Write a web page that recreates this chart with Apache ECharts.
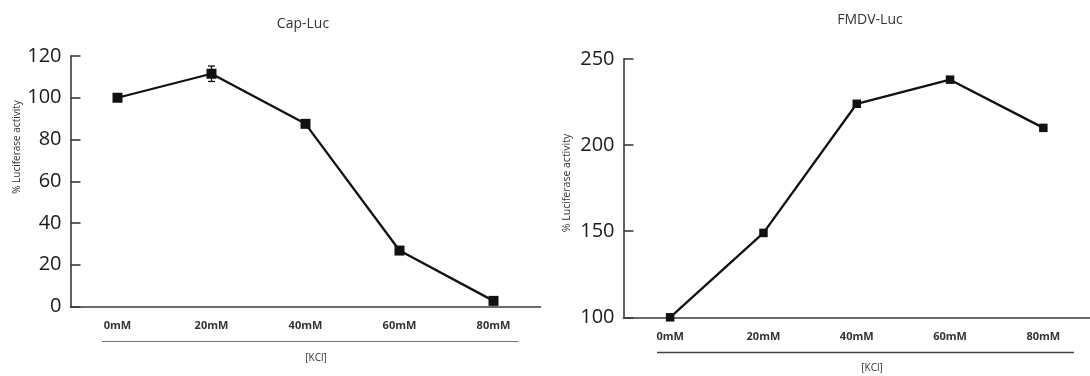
<!DOCTYPE html>
<html>
<head>
<meta charset="utf-8">
<script src="https://cdn.jsdelivr.net/npm/echarts@6/dist/echarts.min.js"></script>
<style>
html,body{margin:0;padding:0;background:#fff;}
#chart{width:1090px;height:376px;}
</style>
</head>
<body>
<div id="chart"></div>
<script>
// ---- data ----
const categories = ['0mM', '20mM', '40mM', '60mM', '80mM'];
const capLuc = [100, 111.5, 87.5, 26.8, 2.7];
const capLucErr = [0, 3.7, 0, 0, 0];
const fmdvLuc = [100, 149, 224, 238, 210];
const leftTicks = [0, 20, 40, 60, 80, 100, 120];
const rightTicks = [100, 150, 200, 250];
const titles = ['Cap-Luc', 'FMDV-Luc'];
const yName = '% Luciferase activity';
const xName = '[KCl]';

const FONT = '"Open Sans", "Liberation Sans", sans-serif';
const axisCol = '#3a3a3a';
const textCol = '#333';

const chart = echarts.init(document.getElementById('chart'), null, {renderer: 'canvas'});

function xAxis(gridIndex) {
  return {
    type: 'category', gridIndex, data: categories, boundaryGap: true,
    axisLine: {lineStyle: {color: axisCol, width: 1.6}},
    axisTick: {inside: true, length: 5, lineStyle: {color: axisCol, width: 1.5}},
    axisLabel: {color: textCol, fontFamily: FONT, fontSize: 11, fontWeight: 'bold', margin: 14},
    splitLine: {show: false}
  };
}
function yAxis(gridIndex, ticks) {
  const min = ticks[0], max = ticks[ticks.length - 1];
  return {
    type: 'value', gridIndex, min, max, interval: ticks[1] - ticks[0],
    axisLine: {show: true, lineStyle: {color: axisCol, width: 1.6}},
    axisTick: {show: true, inside: true, length: 10, lineStyle: {color: axisCol, width: 1.6}},
    axisLabel: {color: '#1a1a1a', fontFamily: FONT, fontSize: 20, margin: 9},
    splitLine: {show: false}
  };
}

const lineStyle = {color: '#111', width: 2.3};

const option = {
  backgroundColor: '#fff',
  animation: false,
  title: [
    {text: titles[0], left: 298, top: 12, textAlign: 'center',
     textStyle: {fontFamily: FONT, fontSize: 14, fontWeight: 'normal', color: textCol}},
    {text: titles[1], left: 865, top: 8, textAlign: 'center',
     textStyle: {fontFamily: FONT, fontSize: 14, fontWeight: 'normal', color: textCol}}
  ],
  grid: [
    {left: 70.5, top: 56, width: 470, height: 250.5, containLabel: false},
    {left: 623.5, top: 59, width: 477.5, height: 258.3, containLabel: false}
  ],
  xAxis: [xAxis(0), xAxis(1)],
  yAxis: [yAxis(0, leftTicks), yAxis(1, rightTicks)],
  series: [
    {
      type: 'line', xAxisIndex: 0, yAxisIndex: 0, data: capLuc,
      symbol: 'rect', symbolSize: 10, lineStyle,
      itemStyle: {color: '#111'}, z: 3
    },
    {
      type: 'custom', xAxisIndex: 0, yAxisIndex: 0,
      data: capLuc.map((v, i) => [i, v - capLucErr[i], v + capLucErr[i]]).filter((d, i) => capLucErr[i] > 0),
      renderItem: function (params, api) {
        const lo = api.coord([api.value(0), api.value(1)]);
        const hi = api.coord([api.value(0), api.value(2)]);
        const w = 3.5;
        const st = {stroke: '#111', lineWidth: 1.3};
        return {type: 'group', children: [
          {type: 'line', shape: {x1: lo[0], y1: lo[1], x2: hi[0], y2: hi[1]}, style: st},
          {type: 'line', shape: {x1: lo[0] - w, y1: lo[1], x2: lo[0] + w, y2: lo[1]}, style: st},
          {type: 'line', shape: {x1: hi[0] - w, y1: hi[1], x2: hi[0] + w, y2: hi[1]}, style: st}
        ]};
      },
      z: 4
    },
    {
      type: 'line', xAxisIndex: 1, yAxisIndex: 1, data: fmdvLuc,
      symbol: 'rect', symbolSize: 8.5, lineStyle,
      itemStyle: {color: '#111'}, z: 3
    }
  ],
  graphic: [
    {type: 'line', shape: {x1: 102, y1: 341.5, x2: 518.5, y2: 341.5}, style: {stroke: '#777', lineWidth: 1.2}},
    {type: 'text', x: 316, y: 358, style: {text: xName, fontFamily: FONT, fontSize: 10, fill: textCol, textAlign: 'center', textVerticalAlign: 'middle'}},
    {type: 'line', shape: {x1: 657, y1: 352.5, x2: 1074, y2: 352.5}, style: {stroke: '#444', lineWidth: 1.6}},
    {type: 'text', x: 872, y: 368, style: {text: xName, fontFamily: FONT, fontSize: 10, fill: textCol, textAlign: 'center', textVerticalAlign: 'middle'}},
    {type: 'text', x: 17, y: 147, rotation: Math.PI / 2, style: {text: yName, fontFamily: FONT, fontSize: 10, fill: textCol, textAlign: 'center', textVerticalAlign: 'middle'}},
    {type: 'text', x: 567.5, y: 183, rotation: Math.PI / 2, style: {text: yName, fontFamily: FONT, fontSize: 10.5, fill: textCol, textAlign: 'center', textVerticalAlign: 'middle'}}
  ]
};
chart.setOption(option);
</script>
</body>
</html>
